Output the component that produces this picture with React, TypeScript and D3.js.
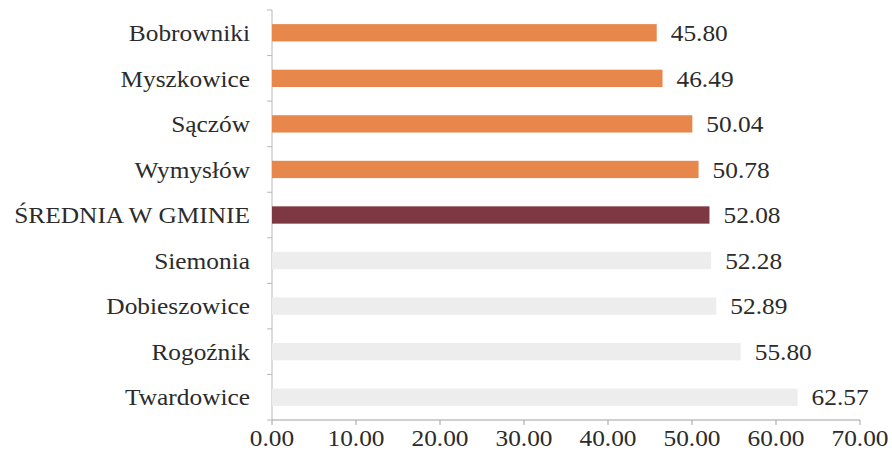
import React from "react";
import * as d3 from "d3";

const categories = ["Bobrowniki", "Myszkowice", "Sączów", "Wymysłów", "ŚREDNIA W GMINIE", "Siemonia", "Dobieszowice", "Rogoźnik", "Twardowice"];
const values = [45.8, 46.49, 50.04, 50.78, 52.08, 52.28, 52.89, 55.8, 62.57];
const groups = ["up", "up", "up", "up", "avg", "low", "low", "low", "low"];
const xTicks = [0, 10, 20, 30, 40, 50, 60, 70];

const W = 892, H = 464;
const M = { left: 272, right: 32, top: 10, bottom: 44 };
const colors: Record<string, string> = { up: "#E8874C", avg: "#7E3843", low: "#EDEDED" };
const font = "Liberation Serif, DejaVu Serif, serif";
const SX = 1.08;

function T(props: { x: number; y: number; anchor?: string; dy?: string; children: React.ReactNode }) {
  return (
    <text
      transform={`translate(${props.x},${props.y}) scale(${SX},1)`}
      dy={props.dy}
      textAnchor={props.anchor || "start"}
      style={{ fontFamily: font }}
      fontSize={23.5}
      fill="#2b2b2b"
    >
      {props.children}
    </text>
  );
}

export default function App() {
  const x = d3.scaleLinear().domain([0, 70]).range([M.left, W - M.right]);
  const y = d3.scaleBand().domain(categories).range([M.top, H - M.bottom]).paddingInner(0.62).paddingOuter(0.31);
  const step = y.step();
  const axisY = H - M.bottom;
  return (
    <svg width={W} height={H} style={{ position: "absolute", left: 0, top: 0, background: "#fff", fontFamily: font }}>
      <line x1={M.left} x2={M.left} y1={M.top} y2={axisY} stroke="#b8b8b8" strokeWidth={1} />
      {d3.range(categories.length + 1).map((i) => (
        <line key={"yt" + i} x1={M.left - 5} x2={M.left} y1={M.top + i * step} y2={M.top + i * step} stroke="#b8b8b8" />
      ))}
      {categories.map((c, i) => (
        <rect key={c} x={x(0)} y={y(c)!} width={x(values[i]) - x(0)} height={y.bandwidth()} fill={colors[groups[i]]} />
      ))}
      {categories.map((c) => (
        <T key={"l" + c} x={250} y={y(c)! + y.bandwidth() / 2} dy="0.35em" anchor="end">
          {c}
        </T>
      ))}
      {categories.map((c, i) => (
        <T key={"v" + c} x={x(values[i]) + 14} y={y(c)! + y.bandwidth() / 2} dy="0.35em">
          {values[i].toFixed(2)}
        </T>
      ))}
      <line x1={M.left} x2={x(70)} y1={axisY} y2={axisY} stroke="#a0a0a0" />
      {xTicks.map((t) => (
        <g key={"xt" + t}>
          <line x1={x(t)} x2={x(t)} y1={axisY} y2={axisY + 5} stroke="#a0a0a0" />
          <T x={x(t)} y={axisY + 26} anchor="middle">
            {t.toFixed(2)}
          </T>
        </g>
      ))}
    </svg>
  );
}
